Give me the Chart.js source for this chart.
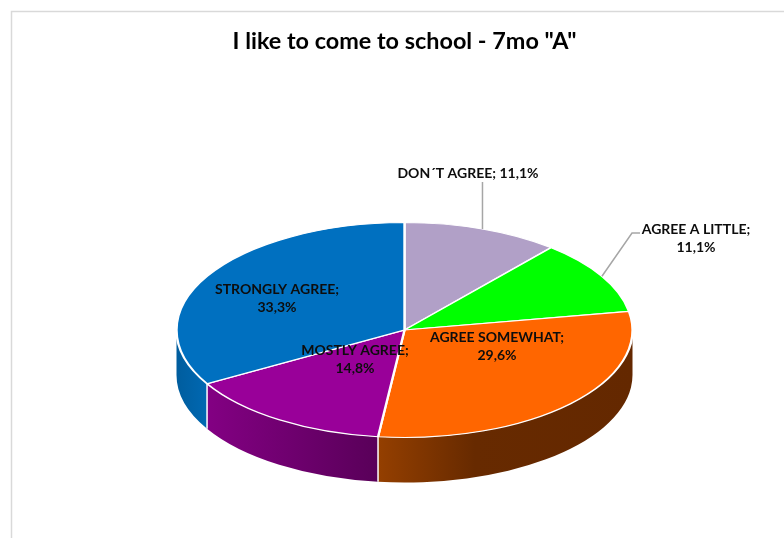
<!DOCTYPE html>
<html>
<head>
<meta charset="utf-8">
<style>
  html, body { margin: 0; padding: 0; background: #fff; overflow: hidden; }
  canvas { display: block; }
</style>
<script src="https://cdn.jsdelivr.net/npm/chart.js@4"></script>
</head>
<body>
<canvas id="chart" width="784" height="538"></canvas>
<script>
const chartTitle = 'I like to come to school - 7mo "A"';
const categories = ['DON´T AGREE', 'AGREE A LITTLE', 'AGREE SOMEWHAT', 'MOSTLY AGREE', 'STRONGLY AGREE'];
const shares = [11.1, 11.1, 29.6, 14.8, 33.3];
const topColors = ['#b1a0c7', '#00ff00', '#ff6600', '#990099', '#0070c0'];

// Shading of the rim, as [offset, colour] stops running left to right across each slice.
const rimShades = [
  [[0, '#8a7a9c'], [1, '#8a7a9c']],
  [[0, '#00b300'], [1, '#00b300']],
  [[0, '#943f00'], [0.38, '#672a00'], [1, '#642800']],
  [[0, '#830083'], [1, '#590059']],
  [[0, '#005d9e'], [1, '#0068b2']]
];

// Tilted-disc geometry
const discRadius = 228;
const discCentreY = 330;
const tilt = 107.5 / 228;
const rimDepth = 45;

// Where each label sits (centre of its block) and its wrapping.
const labelSpots = [
  { x: 468, y: 173, oneLine: true, leader: true },
  { x: 696, y: 229, leader: true, elbow: [632, 233, 640, 233] },
  { x: 497, y: 337 },
  { x: 355, y: 350 },
  { x: 277, y: 289 }
];
const lineGap = 18.5;

const fmt = v => v.toFixed(1).replace('.', ',') + '%';

const tiltedPie = {
  id: 'tiltedPie',
  beforeDraw(chart) {
    // Chart frame: only its top and left edges fall inside the page
    const { ctx } = chart;
    ctx.save();
    ctx.strokeStyle = '#d9d9d9';
    ctx.lineWidth = 1.5;
    ctx.strokeRect(11.5, 11.5, 1000, 1000);
    ctx.restore();
  },
  beforeDatasetsDraw(chart) {
    const { ctx } = chart;
    const arcs = chart.getDatasetMeta(0).data;
    const cx = arcs[0].x;
    const r = arcs[0].outerRadius;
    const ry = r * tilt;

    // Rim, only for the part of each slice facing the viewer
    arcs.forEach((arc, i) => {
      const a = Math.max(arc.startAngle, 0);
      const b = Math.min(arc.endAngle, Math.PI);
      const wrapA = Math.max(arc.startAngle - 2 * Math.PI, 0);
      const wrapB = Math.min(arc.endAngle - 2 * Math.PI, Math.PI);
      const from = b > a ? a : wrapA;
      const to = b > a ? b : wrapB;
      if (to <= from) return;
      const x0 = cx + r * Math.cos(to);
      const x1 = cx + r * Math.cos(from);
      const grad = ctx.createLinearGradient(Math.min(x0, x1), 0, Math.max(x0, x1), 0);
      rimShades[i].forEach(([o, c]) => grad.addColorStop(o, c));
      ctx.beginPath();
      ctx.ellipse(cx, discCentreY, r, ry, 0, from, to);
      ctx.ellipse(cx, discCentreY + rimDepth, r, ry, 0, to, from, true);
      ctx.closePath();
      ctx.fillStyle = grad;
      ctx.fill();
    });

    // White seams where slices meet on the rim
    ctx.strokeStyle = '#ffffff';
    ctx.lineWidth = 1.5;
    arcs.forEach(arc => {
      const t = arc.endAngle;
      if (t > 0 && t < Math.PI) {
        const x = cx + r * Math.cos(t);
        const y = discCentreY + ry * Math.sin(t);
        ctx.beginPath();
        ctx.moveTo(x, y);
        ctx.lineTo(x, y + rimDepth);
        ctx.stroke();
      }
    });

    // Squash the flat pie into an ellipse for the library's own arcs
    ctx.save();
    ctx.translate(0, discCentreY);
    ctx.scale(1, tilt);
    ctx.translate(0, -arcs[0].y);
  },
  afterDatasetsDraw(chart) {
    const { ctx } = chart;
    ctx.restore();
    const arcs = chart.getDatasetMeta(0).data;

    // Leader lines start on the disc's edge at each slice's middle angle
    ctx.strokeStyle = '#a6a6a6';
    ctx.lineWidth = 1.5;
    arcs.forEach((arc, i) => {
      const spot = labelSpots[i];
      if (!spot.leader) return;
      const mid = (arc.startAngle + arc.endAngle) / 2;
      const ex = arc.x + arc.outerRadius * Math.cos(mid);
      const ey = discCentreY + arc.outerRadius * tilt * Math.sin(mid);
      ctx.beginPath();
      ctx.moveTo(ex, ey);
      if (spot.elbow) {
        ctx.lineTo(spot.elbow[0], spot.elbow[1]);
        ctx.lineTo(spot.elbow[2], spot.elbow[3]);
      } else {
        ctx.lineTo(ex, spot.y + 9);
      }
      ctx.stroke();
    });

    // Category and share labels
    ctx.fillStyle = '#0d0d0d';
    ctx.font = 'bold 14px Lato, "Noto Sans", sans-serif';
    ctx.textAlign = 'center';
    ctx.textBaseline = 'middle';
    categories.forEach((name, i) => {
      const spot = labelSpots[i];
      if (spot.oneLine) {
        ctx.fillText(name + '; ' + fmt(shares[i]), spot.x, spot.y);
      } else {
        ctx.fillText(name + ';', spot.x, spot.y);
        ctx.fillText(fmt(shares[i]), spot.x, spot.y + lineGap);
      }
    });
  }
};

new Chart(document.getElementById('chart'), {
  type: 'pie',
  data: {
    labels: categories,
    datasets: [{
      data: shares,
      backgroundColor: topColors,
      borderColor: '#ffffff',
      borderWidth: 2.4,
      radius: discRadius
    }]
  },
  plugins: [tiltedPie],
  options: {
    responsive: false,
    animation: false,
    layout: { padding: { left: 25 } },
    plugins: {
      legend: { display: false },
      tooltip: { enabled: false },
      title: {
        display: true,
        text: chartTitle,
        color: '#000000',
        font: { family: 'Lato, "Noto Sans", sans-serif', size: 23.4, weight: 'bold' },
        padding: { top: 27, bottom: 10 }
      }
    }
  }
});
</script>
</body>
</html>
